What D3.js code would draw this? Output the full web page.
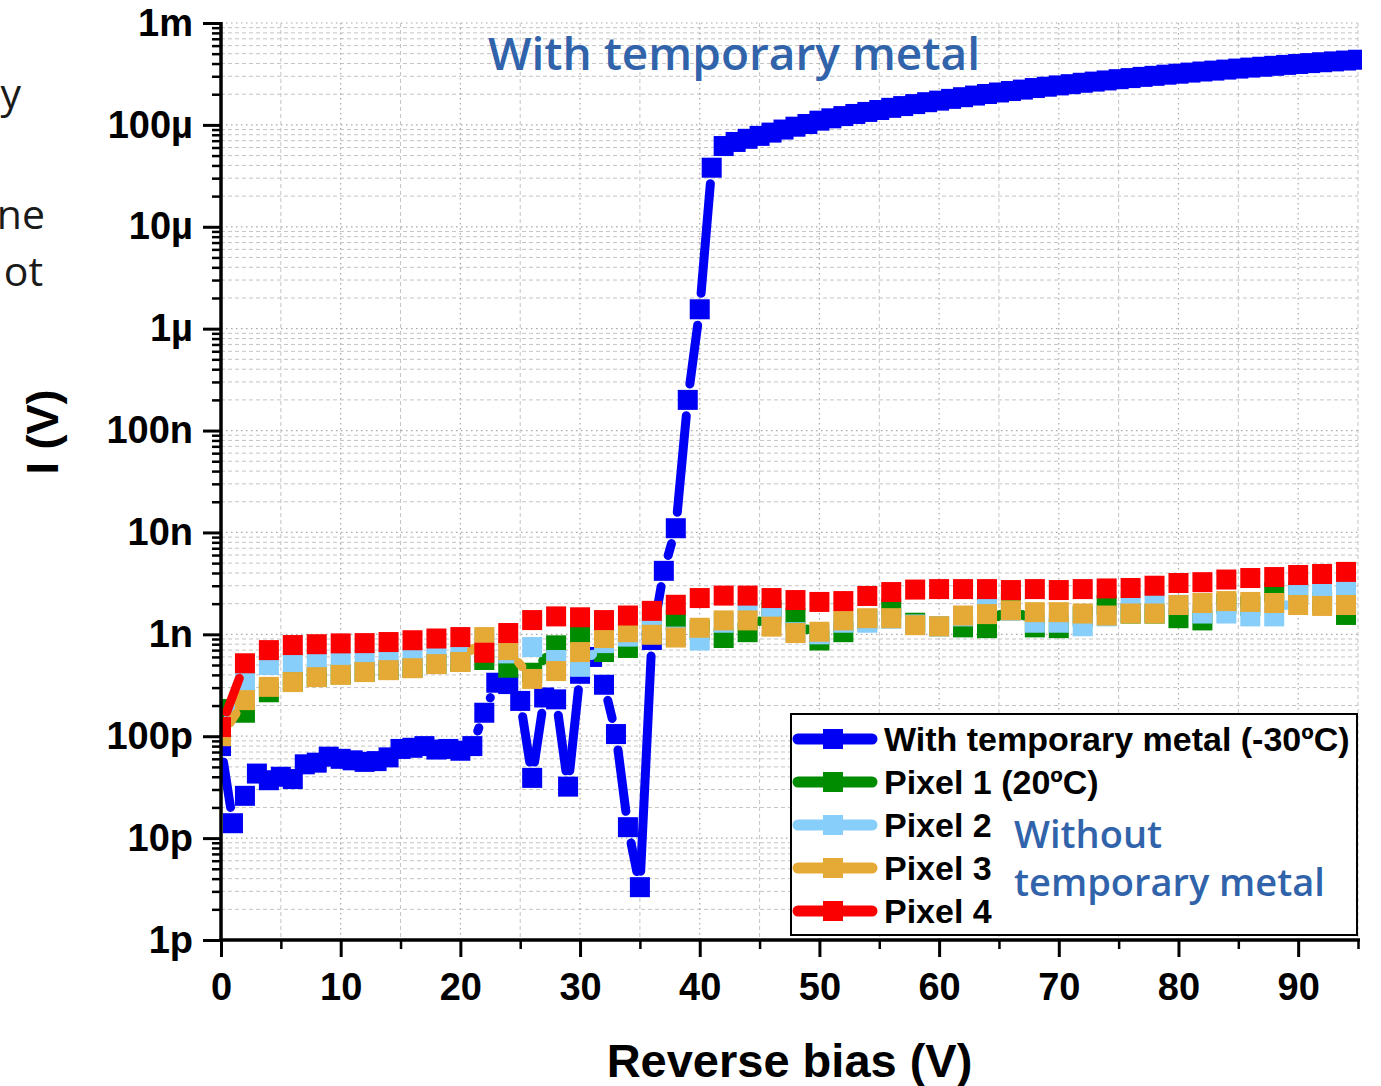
<!DOCTYPE html>
<html>
<head>
<meta charset="utf-8">
<script src="https://cdn.jsdelivr.net/npm/d3@7"></script>
<style>
    html, body { margin: 0; padding: 0; background: #ffffff; }
    #chart { width: 1381px; height: 1086px; overflow: hidden; }
</style>
</head>
<body>
<div id="chart"></div>
<script>
// Reverse bias (V) for the device with temporary metal, measured every 1 V
const biasBlue = [
    0, 1, 2, 3, 4, 5, 6, 7, 8, 9, 10, 11, 12, 13, 14, 15, 16, 17, 18, 19,
    20, 21, 22, 23, 24, 25, 26, 27, 28, 29, 30, 31, 32, 33, 34, 35, 36, 37, 38, 39,
    40, 41, 42, 43, 44, 45, 46, 47, 48, 49, 50, 51, 52, 53, 54, 55, 56, 57, 58, 59,
    60, 61, 62, 63, 64, 65, 66, 67, 68, 69, 70, 71, 72, 73, 74, 75, 76, 77, 78, 79,
    80, 81, 82, 83, 84, 85, 86, 87, 88, 89, 90, 91, 92, 93, 94, 95
];

// Current (A), with temporary metal (-30ºC)
const currentBlue = [
    80e-12, 14e-12, 26e-12, 43e-12, 37e-12, 40e-12, 38e-12, 53e-12, 55e-12, 63e-12,
    60e-12, 58e-12, 56e-12, 57e-12, 62e-12, 75e-12, 77e-12, 80e-12, 74e-12, 75e-12,
    72e-12, 80e-12, 170e-12, 335e-12, 325e-12, 222e-12, 39e-12, 240e-12, 230e-12, 32e-12,
    410e-12, 600e-12, 320e-12, 105e-12, 12.8e-12, 3.3e-12, 880e-12, 4.2e-9, 11e-9, 200e-9,
    1.55e-6, 38e-6, 62e-6, 68e-6, 73e-6, 78e-6, 84e-6, 90e-6, 96e-6, 102e-6,
    110e-6, 116e-6, 122e-6, 128e-6, 134e-6, 140e-6, 147e-6, 153e-6, 160e-6, 167e-6,
    173e-6, 180e-6, 187e-6, 194e-6, 201e-6, 208e-6, 215e-6, 222e-6, 230e-6, 237e-6,
    244e-6, 251e-6, 259e-6, 266e-6, 273e-6, 281e-6, 288e-6, 296e-6, 303e-6, 311e-6,
    318e-6, 326e-6, 334e-6, 341e-6, 349e-6, 357e-6, 365e-6, 372e-6, 380e-6, 388e-6,
    396e-6, 404e-6, 412e-6, 420e-6, 428e-6, 436e-6
];

// Reverse bias (V) for the pixels without temporary metal, measured every 2 V
const biasPixels = [
    0, 2, 4, 6, 8, 10, 12, 14, 16, 18, 20, 22, 24, 26, 28, 30, 32, 34, 36, 38,
    40, 42, 44, 46, 48, 50, 52, 54, 56, 58, 60, 62, 64, 66, 68, 70, 72, 74, 76, 78,
    80, 82, 84, 86, 88, 90, 92, 94
];

const currentPixel1 = [
    185e-12, 170e-12, 270e-12, 345e-12, 385e-12, 405e-12, 430e-12, 450e-12, 470e-12, 515e-12,
    540e-12, 560e-12, 470e-12, 420e-12, 780e-12, 1.0e-9, 670e-12, 735e-12, 1.1e-9, 1.37e-9,
    1.1e-9, 920e-12, 1.05e-9, 1.72e-9, 1.44e-9, 870e-12, 1.05e-9, 1.4e-9, 1.8e-9, 1.3e-9,
    1.2e-9, 1.17e-9, 1.15e-9, 2.03e-9, 1.17e-9, 1.15e-9, 1.5e-9, 1.94e-9, 1.6e-9, 1.6e-9,
    1.44e-9, 1.37e-9, 2.0e-9, 1.9e-9, 2.6e-9, 2.6e-9, 2.1e-9, 1.55e-9
];

const currentPixel2 = [
    105e-12, 350e-12, 500e-12, 530e-12, 540e-12, 545e-12, 560e-12, 585e-12, 600e-12, 620e-12,
    640e-12, 880e-12, 650e-12, 750e-12, 560e-12, 480e-12, 820e-12, 950e-12, 1.3e-9, 950e-12,
    870e-12, 1.3e-9, 1.75e-9, 1.5e-9, 1.05e-9, 1.0e-9, 1.3e-9, 1.3e-9, 1.42e-9, 1.25e-9,
    1.2e-9, 1.5e-9, 2.05e-9, 1.7e-9, 1.3e-9, 1.3e-9, 1.2e-9, 1.5e-9, 2.1e-9, 2.15e-9,
    1.95e-9, 1.6e-9, 1.6e-9, 1.5e-9, 1.5e-9, 2.5e-9, 2.6e-9, 2.7e-9
];

const currentPixel3 = [
    100e-12, 226e-12, 305e-12, 340e-12, 380e-12, 400e-12, 426e-12, 445e-12, 465e-12, 510e-12,
    535e-12, 940e-12, 700e-12, 365e-12, 436e-12, 670e-12, 920e-12, 1.05e-9, 990e-12, 930e-12,
    1.16e-9, 1.37e-9, 1.37e-9, 1.19e-9, 1.03e-9, 1.06e-9, 1.37e-9, 1.44e-9, 1.44e-9, 1.23e-9,
    1.2e-9, 1.53e-9, 1.58e-9, 1.72e-9, 1.65e-9, 1.65e-9, 1.6e-9, 1.53e-9, 1.6e-9, 1.6e-9,
    1.94e-9, 2.03e-9, 2.12e-9, 2.08e-9, 2.03e-9, 1.94e-9, 1.9e-9, 1.94e-9
];

const currentPixel4 = [
    123e-12, 520e-12, 700e-12, 785e-12, 800e-12, 815e-12, 820e-12, 840e-12, 875e-12, 910e-12,
    940e-12, 660e-12, 1.03e-9, 1.38e-9, 1.5e-9, 1.47e-9, 1.38e-9, 1.53e-9, 1.7e-9, 1.95e-9,
    2.27e-9, 2.4e-9, 2.4e-9, 2.27e-9, 2.17e-9, 2.08e-9, 2.12e-9, 2.38e-9, 2.6e-9, 2.75e-9,
    2.78e-9, 2.78e-9, 2.78e-9, 2.72e-9, 2.78e-9, 2.72e-9, 2.78e-9, 2.82e-9, 2.85e-9, 3.0e-9,
    3.19e-9, 3.25e-9, 3.45e-9, 3.57e-9, 3.65e-9, 3.82e-9, 3.91e-9, 4.1e-9
];

const seriesNames = ['With temporary metal (-30ºC)', 'Pixel 1 (20ºC)', 'Pixel 2', 'Pixel 3', 'Pixel 4'];
const seriesColors = ['#0000f5', '#008c00', '#87cefa', '#e5a935', '#fa0000'];

const xTickValues = [0, 10, 20, 30, 40, 50, 60, 70, 80, 90];
const xMinorTickValues = [5, 15, 25, 35, 45, 55, 65, 75, 85, 95];
const yTickValues = [1e-12, 1e-11, 1e-10, 1e-9, 1e-8, 1e-7, 1e-6, 1e-5, 1e-4, 1e-3];
const yTickLabels = ['1p', '10p', '100p', '1n', '10n', '100n', '1µ', '10µ', '100µ', '1m'];

const width = 1381;
const height = 1086;
const margin = { top: 23, right: 23, bottom: 146, left: 221 };
const axisFont = '"Liberation Sans", Arial, sans-serif';
const noteFont = '"Open Sans", "Noto Sans", sans-serif';
const noteColor = '#3163ab';

const series = [
    { x: biasBlue, y: currentBlue },
    { x: biasPixels, y: currentPixel1 },
    { x: biasPixels, y: currentPixel2 },
    { x: biasPixels, y: currentPixel3 },
    { x: biasPixels, y: currentPixel4 }
].map((s, i) => ({
    name: seriesNames[i],
    color: seriesColors[i],
    points: s.x.map((v, j) => ({ x: v, y: s.y[j] }))
}));

const svg = d3.select('#chart')
    .append('svg')
    .attr('width', width)
    .attr('height', height)
    .style('background', '#ffffff');

// scales
const x = d3.scaleLinear()
    .domain([0, 95])
    .range([margin.left, width - margin.right]);

const y = d3.scaleLog()
    .domain([1e-12, 1e-3])
    .range([height - margin.bottom, margin.top]);

const plotLeft = x.range()[0];
const plotRight = x.range()[1];
const plotBottom = y.range()[0];
const plotTop = y.range()[1];

// minor log values 2..9 in every decade
const yMinorValues = [];
yTickValues.slice(0, -1).forEach(d => {
    [2, 3, 4, 5, 6, 7, 8, 9].forEach(k => yMinorValues.push(d * k));
});

// grid
const grid = svg.append('g').attr('class', 'grid');

grid.selectAll('.hgrid-minor')
    .data(yMinorValues)
    .join('line')
    .attr('x1', plotLeft)
    .attr('x2', plotRight)
    .attr('y1', d => y(d))
    .attr('y2', d => y(d))
    .attr('stroke', '#c4c4c4')
    .attr('stroke-width', 1)
    .attr('stroke-dasharray', '4,3');

grid.selectAll('.hgrid-major')
    .data(yTickValues.slice(1))
    .join('line')
    .attr('x1', plotLeft)
    .attr('x2', plotRight)
    .attr('y1', d => y(d))
    .attr('y2', d => y(d))
    .attr('stroke', '#a8a8a8')
    .attr('stroke-width', 1.2)
    .attr('stroke-dasharray', '1.5,3.5');

grid.selectAll('.vgrid-minor')
    .data(xMinorTickValues)
    .join('line')
    .attr('x1', d => x(d))
    .attr('x2', d => x(d))
    .attr('y1', plotTop)
    .attr('y2', plotBottom)
    .attr('stroke', '#c4c4c4')
    .attr('stroke-width', 1)
    .attr('stroke-dasharray', '4,3');

grid.selectAll('.vgrid-major')
    .data(xTickValues.slice(1))
    .join('line')
    .attr('x1', d => x(d))
    .attr('x2', d => x(d))
    .attr('y1', plotTop)
    .attr('y2', plotBottom)
    .attr('stroke', '#a8a8a8')
    .attr('stroke-width', 1.2)
    .attr('stroke-dasharray', '1.5,3.5');

// clip for data
svg.append('defs')
    .append('clipPath')
    .attr('id', 'plot-clip')
    .append('rect')
    .attr('x', plotLeft)
    .attr('y', plotTop - 12)
    .attr('width', plotRight - plotLeft + 4)
    .attr('height', plotBottom - plotTop + 12);

const dataLayer = svg.append('g').attr('clip-path', 'url(#plot-clip)');

// line segments leave a gap around each symbol, like the original plot
const markerSize = 20;
const gap = 16;

const segmentsOf = pts => {
    const segs = [];
    for (let i = 0; i < pts.length - 1; i++) {
        const x1 = x(pts[i].x), y1 = y(pts[i].y);
        const x2 = x(pts[i + 1].x), y2 = y(pts[i + 1].y);
        const len = Math.hypot(x2 - x1, y2 - y1);
        if (len <= 2 * gap) continue;
        const ux = (x2 - x1) / len, uy = (y2 - y1) / len;
        segs.push({ x1: x1 + ux * gap, y1: y1 + uy * gap, x2: x2 - ux * gap, y2: y2 - uy * gap });
    }
    return segs;
};

series.forEach(s => {
    const g = dataLayer.append('g');

    g.selectAll('line')
        .data(segmentsOf(s.points))
        .join('line')
        .attr('x1', d => d.x1)
        .attr('y1', d => d.y1)
        .attr('x2', d => d.x2)
        .attr('y2', d => d.y2)
        .attr('stroke', s.color)
        .attr('stroke-width', 9)
        .attr('stroke-linecap', 'round');

    g.selectAll('rect')
        .data(s.points)
        .join('rect')
        .attr('x', d => x(d.x) - markerSize / 2)
        .attr('y', d => y(d.y) - markerSize / 2)
        .attr('width', markerSize)
        .attr('height', markerSize)
        .attr('fill', s.color);
});

// axes
const yAxis = g => g
    .attr('transform', `translate(${plotLeft},0)`)
    .call(d3.axisLeft(y).tickValues(yTickValues).tickFormat((d, i) => yTickLabels[i]).tickSize(18).tickPadding(10))
    .call(g => g.select('.domain').remove())
    .call(g => g.selectAll('.tick line').attr('stroke', '#000').attr('stroke-width', 3))
    .call(g => g.selectAll('text')
        .style('font-family', axisFont)
        .style('font-weight', 'bold')
        .style('font-size', '38px')
        .attr('fill', '#000'));

const yMinorAxis = g => g
    .attr('transform', `translate(${plotLeft},0)`)
    .call(d3.axisLeft(y).tickValues(yMinorValues).tickFormat('').tickSize(9))
    .call(g => g.select('.domain').remove())
    .call(g => g.selectAll('.tick line').attr('stroke', '#000').attr('stroke-width', 2.5));

const xAxis = g => g
    .attr('transform', `translate(0,${plotBottom})`)
    .call(d3.axisBottom(x).tickValues(xTickValues).tickFormat(d3.format('d')).tickSize(17).tickPadding(16))
    .call(g => g.select('.domain').remove())
    .call(g => g.selectAll('.tick line').attr('stroke', '#000').attr('stroke-width', 3))
    .call(g => g.selectAll('text')
        .style('font-family', axisFont)
        .style('font-weight', 'bold')
        .style('font-size', '38px')
        .attr('fill', '#000'));

const xMinorAxis = g => g
    .attr('transform', `translate(0,${plotBottom})`)
    .call(d3.axisBottom(x).tickValues(xMinorTickValues).tickFormat('').tickSize(9))
    .call(g => g.select('.domain').remove())
    .call(g => g.selectAll('.tick line').attr('stroke', '#000').attr('stroke-width', 2.5));

svg.append('g').call(yMinorAxis);
svg.append('g').call(yAxis);
svg.append('g').call(xMinorAxis);
svg.append('g').call(xAxis);

// axis lines
svg.append('line')
    .attr('x1', plotLeft)
    .attr('x2', plotLeft)
    .attr('y1', plotTop - 1)
    .attr('y2', plotBottom + 1.5)
    .attr('stroke', '#000')
    .attr('stroke-width', 3.5);

svg.append('line')
    .attr('x1', plotLeft - 1.5)
    .attr('x2', plotRight + 2)
    .attr('y1', plotBottom)
    .attr('y2', plotBottom)
    .attr('stroke', '#000')
    .attr('stroke-width', 3.5);

// axis titles
svg.append('text')
    .attr('x', (plotLeft + plotRight) / 2)
    .attr('y', 1077)
    .attr('text-anchor', 'middle')
    .style('font-family', axisFont)
    .style('font-weight', 'bold')
    .style('font-size', '47px')
    .text('Reverse bias (V)');

svg.append('text')
    .attr('transform', 'translate(58,432) rotate(-90)')
    .attr('text-anchor', 'middle')
    .style('font-family', axisFont)
    .style('font-weight', 'bold')
    .style('font-size', '45px')
    .text('I (V)');

// annotations
svg.append('text')
    .attr('x', 488)
    .attr('y', 70)
    .style('font-family', noteFont)
    .style('font-weight', 600)
    .style('font-size', '46px')
    .style('fill', noteColor)
    .text('With temporary metal');

// legend
const legendBox = { x: 791, y: 714, w: 566, h: 221 };
const legend = svg.append('g');

legend.append('rect')
    .attr('x', legendBox.x)
    .attr('y', legendBox.y)
    .attr('width', legendBox.w)
    .attr('height', legendBox.h)
    .attr('fill', '#ffffff')
    .attr('stroke', '#000')
    .attr('stroke-width', 2);

const rowY = i => 739 + i * 43;

series.forEach((s, i) => {
    const row = legend.append('g').attr('transform', `translate(0,${rowY(i)})`);

    row.append('line')
        .attr('x1', 798)
        .attr('x2', 872)
        .attr('y1', 0)
        .attr('y2', 0)
        .attr('stroke', s.color)
        .attr('stroke-width', 11)
        .attr('stroke-linecap', 'round');

    row.append('rect')
        .attr('x', 833 - markerSize / 2)
        .attr('y', -markerSize / 2)
        .attr('width', markerSize)
        .attr('height', markerSize)
        .attr('fill', s.color);

    row.append('text')
        .attr('x', 884)
        .attr('y', 12)
        .style('font-family', axisFont)
        .style('font-weight', 'bold')
        .style('font-size', '34px')
        .style('fill', '#000')
        .text(s.name);
});

legend.append('text')
    .attr('x', 1014)
    .attr('y', 848)
    .style('font-family', noteFont)
    .style('font-weight', 600)
    .style('font-size', '38px')
    .style('fill', noteColor)
    .text('Without');

legend.append('text')
    .attr('x', 1014)
    .attr('y', 896)
    .style('font-family', noteFont)
    .style('font-weight', 600)
    .style('font-size', '38px')
    .style('fill', noteColor)
    .text('temporary metal');

// cut-off slide text on the left edge
const sideText = [
    { t: 'y', x: 21, y: 108 },
    { t: 'ne', x: 45, y: 229 },
    { t: 'ot', x: 43, y: 286 }
];

svg.selectAll('.side-text')
    .data(sideText)
    .join('text')
    .attr('class', 'side-text')
    .attr('x', d => d.x)
    .attr('y', d => d.y)
    .attr('text-anchor', 'end')
    .style('font-family', noteFont)
    .style('font-size', '41px')
    .style('fill', '#1a1a1a')
    .text(d => d.t);
</script>
</body>
</html>
